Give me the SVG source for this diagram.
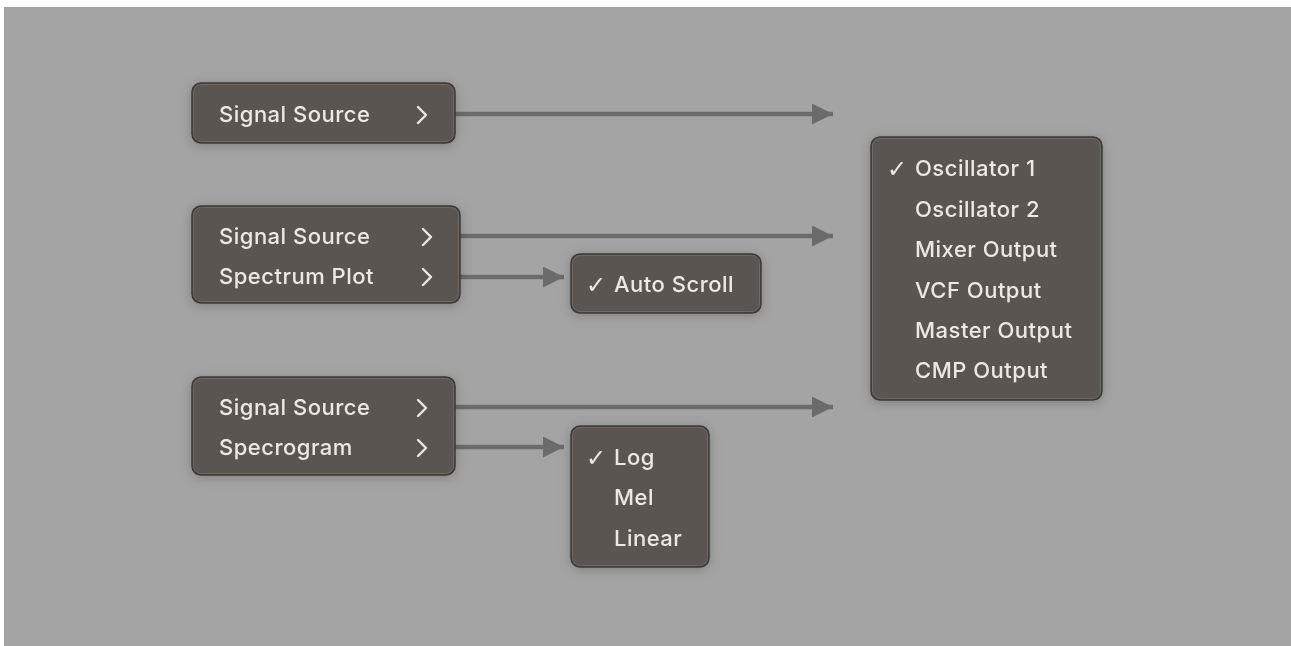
<svg xmlns="http://www.w3.org/2000/svg" width="1291" height="646" viewBox="0 0 1291 646">
<style>
.menu{fill:#5a5551;stroke:#3b3835;stroke-width:1.5}
.hi{fill:none;stroke:#6e6964;stroke-width:1}
.t{font-family:Inter,"Liberation Sans",sans-serif;font-size:22px;font-weight:500;letter-spacing:0.5px;fill:#ece8e4}
.ck{font-family:"DejaVu Sans",sans-serif;font-size:24px;font-weight:bold;fill:#ece8e4}
.chev{fill:none;stroke:#ece8e4;stroke-width:2.4;stroke-linecap:round;stroke-linejoin:round}
.conn{stroke:#6b6b6b;stroke-width:4.5;fill:none}
</style>
<defs>
<filter id="sh" x="-20%" y="-40%" width="140%" height="180%">
<feDropShadow dx="0" dy="2" stdDeviation="6" flood-color="#000" flood-opacity="0.22"/>
</filter>
<marker id="ah" viewBox="0 0 21 21" refX="21" refY="10.5" markerWidth="21" markerHeight="21" markerUnits="userSpaceOnUse" orient="auto">
<path d="M0,0 L21,10.5 L0,21 z" fill="#6b6b6b"/>
</marker>
</defs>
<rect x="0" y="0" width="1291" height="646" fill="#ffffff"/>
<rect x="4" y="7" width="1287" height="639" fill="#a4a4a4"/>

<g id="connectors">
<line class="conn" x1="455" y1="114" x2="833" y2="114" marker-end="url(#ah)"/>
<line class="conn" x1="460" y1="236" x2="833" y2="236" marker-end="url(#ah)"/>
<line class="conn" x1="460" y1="277" x2="564" y2="277" marker-end="url(#ah)"/>
<line class="conn" x1="455" y1="407" x2="833" y2="407" marker-end="url(#ah)"/>
<line class="conn" x1="455" y1="447" x2="564" y2="447" marker-end="url(#ah)"/>
</g>

<g id="menu1" filter="url(#sh)">
<rect class="menu" x="192" y="83" width="263" height="60" rx="9"/>
<rect class="hi" x="193.5" y="84.5" width="260" height="57" rx="8"/>
<text class="t" x="219" y="122">Signal Source</text>
<polyline class="chev" points="418,107 426,115 418,123"/>
</g>

<g id="menu2" filter="url(#sh)">
<rect class="menu" x="192" y="206" width="268" height="97" rx="9"/>
<rect class="hi" x="193.5" y="207.5" width="265" height="94" rx="8"/>
<text class="t" x="219" y="244">Signal Source</text>
<polyline class="chev" points="423,229 431,237 423,245"/>
<text class="t" x="219" y="284">Spectrum Plot</text>
<polyline class="chev" points="423,269 431,277 423,285"/>
</g>

<g id="menu3" filter="url(#sh)">
<rect class="menu" x="192" y="377" width="263" height="98" rx="9"/>
<rect class="hi" x="193.5" y="378.5" width="260" height="95" rx="8"/>
<text class="t" x="219" y="415">Signal Source</text>
<polyline class="chev" points="418,400 426,408 418,416"/>
<text class="t" x="219" y="455">Specrogram</text>
<polyline class="chev" points="418,440 426,448 418,456"/>
</g>

<g id="autoscroll" filter="url(#sh)">
<rect class="menu" x="571" y="254" width="190" height="59" rx="9"/>
<rect class="hi" x="572.5" y="255.5" width="187" height="56" rx="8"/>
<text class="ck" x="586" y="293">✓</text>
<text class="t" x="614" y="292">Auto Scroll</text>
</g>

<g id="scale" filter="url(#sh)">
<rect class="menu" x="571" y="426" width="138" height="141" rx="9"/>
<rect class="hi" x="572.5" y="427.5" width="135" height="138" rx="8"/>
<text class="ck" x="586" y="466">✓</text>
<text class="t" x="614" y="465">Log</text>
<text class="t" x="614" y="505">Mel</text>
<text class="t" x="614" y="546">Linear</text>
</g>

<g id="sources" filter="url(#sh)">
<rect class="menu" x="871" y="137" width="231" height="263" rx="9"/>
<rect class="hi" x="872.5" y="138.5" width="228" height="260" rx="8"/>
<text class="ck" x="887" y="177">✓</text>
<text class="t" x="915" y="176">Oscillator 1</text>
<text class="t" x="915" y="217">Oscillator 2</text>
<text class="t" x="915" y="257">Mixer Output</text>
<text class="t" x="915" y="298">VCF Output</text>
<text class="t" x="915" y="338">Master Output</text>
<text class="t" x="915" y="378">CMP Output</text>
</g>
</svg>
